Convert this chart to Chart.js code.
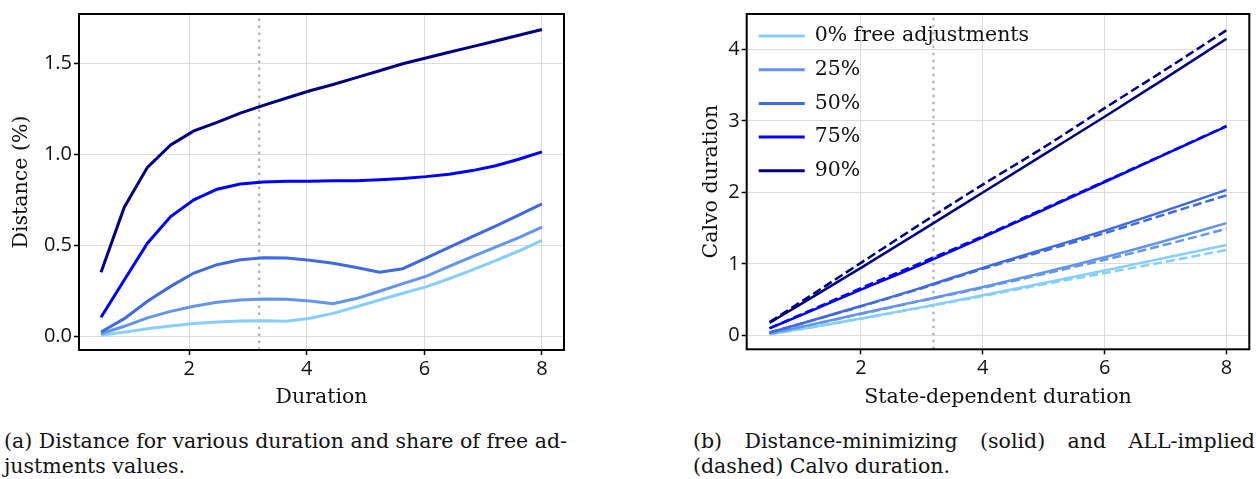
<!DOCTYPE html>
<html>
<head>
<meta charset="utf-8">
<script src="https://cdn.jsdelivr.net/npm/chart.js@4.4.1/dist/chart.umd.min.js"></script>
<style>
  html, body { margin: 0; padding: 0; background: #fff; }
  body { width: 1256px; height: 479px; position: relative; overflow: hidden; }
  .wrap { position: absolute; }
  .cap { position: absolute; font-family: "DejaVu Serif", serif; font-size: 20.5px; line-height: 25px; color: #111; white-space: nowrap; }
  .just { text-align: justify; text-align-last: justify; white-space: normal; }
</style>
</head>
<body>
<div class="wrap" style="left:0;top:0;width:590px;height:420px"><canvas id="chartA" width="590" height="420"></canvas></div>
<div class="wrap" style="left:680px;top:0;width:576px;height:420px"><canvas id="chartB" width="576" height="420"></canvas></div>

<div class="cap just" style="left:4px;top:429px;width:563px">(a) Distance for various duration and share of free ad-</div>
<div class="cap" style="left:4px;top:454px">justments values.</div>
<div class="cap just" style="left:693px;top:429px;width:562px">(b) Distance-minimizing (solid) and ALL-implied</div>
<div class="cap" style="left:693px;top:454px">(dashed) Calvo duration.</div>

<script>
// ---------- data ----------
const seriesLabels = ["0% free adjustments", "25%", "50%", "75%", "90%"];
const seriesColors = ["#87CEFA", "#6495ED", "#4169E1", "#0000FF", "#000080"];
const refDuration = 3.19;

// panel (a)
const durations = [0.5, 0.895, 1.289, 1.684, 2.079, 2.474, 2.868, 3.263, 3.658, 4.053, 4.447, 4.842, 5.237, 5.632, 6.026, 6.421, 6.816, 7.211, 7.605, 8.0];
const dist0  = [0.007, 0.024, 0.042, 0.058, 0.071, 0.080, 0.085, 0.087, 0.084, 0.100, 0.127, 0.163, 0.200, 0.237, 0.272, 0.317, 0.365, 0.416, 0.469, 0.527];
const dist25 = [0.015, 0.056, 0.102, 0.138, 0.166, 0.188, 0.200, 0.206, 0.204, 0.195, 0.180, 0.208, 0.248, 0.290, 0.330, 0.385, 0.438, 0.490, 0.543, 0.600];
const dist50 = [0.025, 0.098, 0.193, 0.275, 0.348, 0.394, 0.421, 0.432, 0.430, 0.418, 0.402, 0.378, 0.352, 0.372, 0.430, 0.489, 0.548, 0.606, 0.666, 0.728];
const dist75 = [0.106, 0.310, 0.512, 0.658, 0.750, 0.808, 0.837, 0.848, 0.851, 0.852, 0.854, 0.855, 0.860, 0.867, 0.877, 0.890, 0.910, 0.937, 0.972, 1.013];
const dist90 = [0.352, 0.709, 0.928, 1.051, 1.128, 1.175, 1.225, 1.268, 1.308, 1.348, 1.382, 1.420, 1.458, 1.496, 1.528, 1.559, 1.590, 1.621, 1.652, 1.684];
const xTicksA = [2, 4, 6, 8];
const yTicksA = [0.0, 0.5, 1.0, 1.5];

// panel (b)
const sdDuration = [0.5, 1, 2, 3, 4, 5, 6, 7, 8];
const calvoSolid0  = [0.015, 0.085, 0.236, 0.395, 0.560, 0.732, 0.908, 1.085, 1.265];
const calvoSolid25 = [0.028, 0.115, 0.305, 0.490, 0.676, 0.880, 1.093, 1.325, 1.570];
const calvoSolid50 = [0.040, 0.160, 0.410, 0.668, 0.945, 1.205, 1.465, 1.745, 2.035];
const calvoSolid75 = [0.097, 0.277, 0.640, 0.995, 1.370, 1.755, 2.146, 2.535, 2.925];
const calvoSolid90 = [0.175, 0.430, 0.945, 1.470, 2.000, 2.530, 3.060, 3.600, 4.150];
const calvoDash0  = [0.015, 0.085, 0.233, 0.390, 0.550, 0.715, 0.871, 1.030, 1.196];
const calvoDash25 = [0.028, 0.115, 0.300, 0.485, 0.665, 0.860, 1.057, 1.270, 1.490];
const calvoDash50 = [0.040, 0.160, 0.405, 0.660, 0.930, 1.180, 1.430, 1.695, 1.960];
const calvoDash75 = [0.100, 0.285, 0.660, 1.020, 1.385, 1.770, 2.155, 2.540, 2.930];
const calvoDash90 = [0.185, 0.460, 1.015, 1.570, 2.110, 2.630, 3.180, 3.720, 4.270];
const xTicksB = [2, 4, 6, 8];
const yTicksB = [0, 1, 2, 3, 4];

// ---------- helpers ----------
const TICK_FONT = { family: "'Open Sans', 'Noto Sans', sans-serif", size: 20 };
const TITLE_FONT = { family: "'DejaVu Serif', serif", size: 20.5 };
const pts = (xs, ys) => xs.map((x, i) => ({ x: x, y: ys[i] }));

const framePlugin = {
  id: 'frame',
  afterDatasetsDraw(chart) {
    const a = chart.chartArea, ctx = chart.ctx;
    ctx.save();
    ctx.strokeStyle = '#000';
    ctx.lineWidth = 2;
    ctx.strokeRect(a.left, a.top, a.right - a.left, a.bottom - a.top);
    ctx.restore();
  }
};

function axisCfg(ticksArr, min, max, fmt, fitSize, horizontal, title, titlePad) {
  return {
    type: 'linear',
    min: min, max: max,
    afterBuildTicks: s => { s.ticks = ticksArr.map(v => ({ value: v })); },
    afterFit: s => { if (horizontal) s.height = fitSize; else s.width = fitSize; },
    grid: { color: '#dcdcdc', lineWidth: 1, tickColor: '#000', tickLength: 5, tickWidth: 1.5, drawTicks: true },
    border: { display: false },
    ticks: { color: '#111', font: TICK_FONT, padding: 2, maxRotation: 0, autoSkip: false, callback: fmt },
    title: { display: true, text: title, color: '#111', font: TITLE_FONT, padding: titlePad }
  };
}

function refLine(ymin, ymax) {
  return {
    label: '_ref', data: [{ x: refDuration, y: ymin }, { x: refDuration, y: ymax }],
    borderColor: '#aaaaaa', borderWidth: 2, borderDash: [2.5, 4.5], pointRadius: 0, order: 20
  };
}

// ---------- chart A ----------
const distSeries = [dist0, dist25, dist50, dist75, dist90];
const yMinA = -0.074, yMaxA = 1.769;
const dsA = distSeries.map((ys, i) => ({
  label: seriesLabels[i], data: pts(durations, ys), borderColor: seriesColors[i],
  borderWidth: 3, pointRadius: 0, tension: 0, order: 5 - i
}));
dsA.push(refLine(yMinA, yMaxA));

new Chart(document.getElementById('chartA'), {
  type: 'line',
  data: { datasets: dsA },
  options: {
    responsive: false, animation: false, devicePixelRatio: 1,
    layout: { padding: { top: 12, right: 26, left: 0, bottom: 0 } },
    plugins: { legend: { display: false }, tooltip: { enabled: false } },
    scales: {
      x: axisCfg(xTicksA, 0.125, 8.375, v => String(v), 70, true, 'Duration', { top: 0, bottom: 10 }),
      y: axisCfg(yTicksA, yMinA, yMaxA, v => Number(v).toFixed(1), 79, false, 'Distance (%)', { top: 9, bottom: 0 })
    }
  },
  plugins: [framePlugin]
});

// ---------- chart B ----------
const solidSeries = [calvoSolid0, calvoSolid25, calvoSolid50, calvoSolid75, calvoSolid90];
const dashSeries = [calvoDash0, calvoDash25, calvoDash50, calvoDash75, calvoDash90];
const yMinB = -0.195, yMaxB = 4.497;
const dsB = [];
solidSeries.forEach((ys, i) => dsB.push({
  label: seriesLabels[i], data: pts(sdDuration, ys), borderColor: seriesColors[i],
  borderWidth: 2.5, pointRadius: 0, cubicInterpolationMode: 'monotone', order: 10 - 2 * i, legend: true
}));
dashSeries.forEach((ys, i) => dsB.push({
  label: seriesLabels[i] + ' (ALL)', data: pts(sdDuration, ys), borderColor: seriesColors[i],
  borderWidth: 2.5, borderDash: [9, 4], pointRadius: 0, cubicInterpolationMode: 'monotone', order: 9 - 2 * i
}));
dsB.push(refLine(yMinB, yMaxB));

const innerLegend = {
  id: 'innerLegend',
  afterDraw(chart) {
    const ctx = chart.ctx, a = chart.chartArea;
    const items = chart.data.datasets.filter(d => d.legend);
    ctx.save();
    ctx.font = "20.5px 'DejaVu Serif', serif";
    ctx.textBaseline = 'middle';
    items.forEach((d, i) => {
      const y = a.top + 22 + i * 33.7;
      ctx.strokeStyle = d.borderColor;
      ctx.lineWidth = 3;
      ctx.beginPath();
      ctx.moveTo(a.left + 12, y);
      ctx.lineTo(a.left + 58, y);
      ctx.stroke();
      ctx.fillStyle = '#111';
      ctx.fillText(d.label, a.left + 68, y);
    });
    ctx.restore();
  }
};

new Chart(document.getElementById('chartB'), {
  type: 'line',
  data: { datasets: dsB },
  options: {
    responsive: false, animation: false, devicePixelRatio: 1,
    layout: { padding: { top: 12, right: 6.7, left: 0, bottom: 0 } },
    plugins: { legend: { display: false }, tooltip: { enabled: false } },
    scales: {
      x: axisCfg(xTicksB, 0.125, 8.375, v => String(v), 70.7, true, 'State-dependent duration', { top: 0, bottom: 10 }),
      y: axisCfg(yTicksB, yMinB, yMaxB, v => String(v), 66.7, false, 'Calvo duration', { top: 19, bottom: 0 })
    }
  },
  plugins: [framePlugin, innerLegend]
});
</script>
</body>
</html>
